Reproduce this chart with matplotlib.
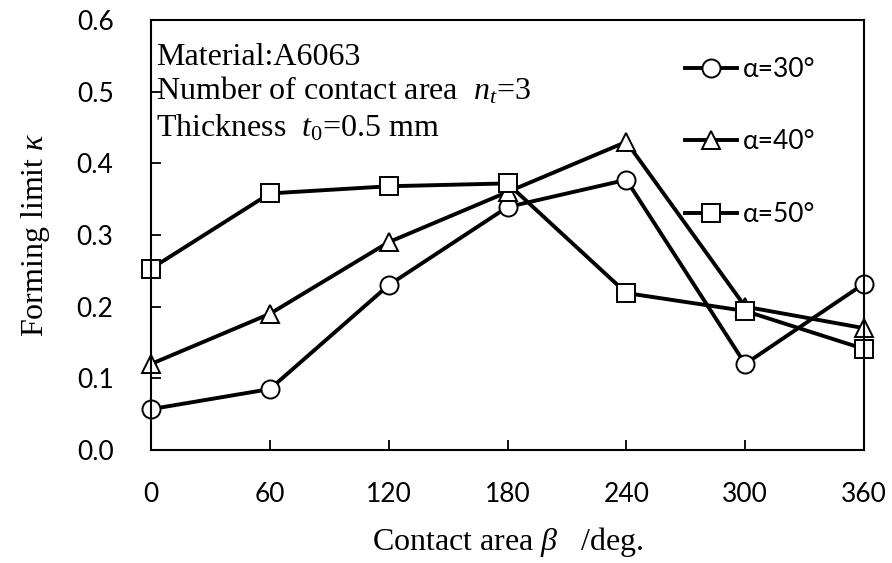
import matplotlib
matplotlib.use("Agg")
from matplotlib import pyplot as plt

# data
beta = [0, 60, 120, 180, 240, 300, 360]
kappa_30 = [0.057, 0.085, 0.23, 0.339, 0.377, 0.12, 0.232]
kappa_40 = [0.12, 0.19, 0.29, 0.36, 0.43, 0.20, 0.17]
kappa_50 = [0.253, 0.358, 0.368, 0.372, 0.219, 0.194, 0.141]
labels = ["α=30°", "α=40°", "α=50°"]
x_ticks = [0, 60, 120, 180, 240, 300, 360]
y_ticks = [0.0, 0.1, 0.2, 0.3, 0.4, 0.5, 0.6]

plt.rcParams['mathtext.fontset'] = 'custom'
plt.rcParams['mathtext.rm'] = 'Liberation Serif'
plt.rcParams['mathtext.it'] = 'Liberation Serif:italic'

fig = plt.figure(figsize=(8.92, 5.63), dpi=100)
ax = fig.add_axes([151 / 892, 1 - 450 / 563, (864 - 151) / 892, 430 / 563])

style = dict(color="black", lw=2.8, markersize=13, markerfacecolor="white",
             markeredgecolor="black", markeredgewidth=1.4)
ax.plot(beta, kappa_30, marker="o", label=labels[0], **style)
ax.plot(beta, kappa_40, marker="^", label=labels[1], **style)
ax.plot(beta, kappa_50, marker="s", label=labels[2], **style)

ax.set_xlim(0, 360)
ax.set_ylim(0, 0.6)
ax.set_xticks(x_ticks)
ax.set_yticks(y_ticks)
ax.set_yticklabels(["%.1f" % v for v in y_ticks])
ax.tick_params(direction="in", length=7, width=1.3, labelsize=19, pad=27)
ax.tick_params(axis="x", pad=23)
for lab in ax.get_xticklabels() + ax.get_yticklabels():
    lab.set_family("Lato")
for s in ax.spines.values():
    s.set_linewidth(1.5)
for p in ax.lines:
    p.set_clip_on(False)

ax.set_xlabel(r"Contact area $\it{\beta}$   /deg.", family="Liberation Serif",
              fontsize=23, labelpad=13)
ax.set_ylabel(r"Forming limit $\it{\kappa}$", family="Liberation Serif",
              fontsize=23, labelpad=18)

txt = dict(family="Liberation Serif", fontsize=23, transform=ax.transAxes,
           ha="left", va="baseline")
ax.text(0.007, 0.895, "Material:A6063", **txt)
ax.text(0.007, 0.814, r"Number of contact area  $\it{n_t}$=3", **txt)
ax.text(0.007, 0.728, r"Thickness  $\it{t_0}$=0.5 mm", **txt)

leg = ax.legend(loc="upper left", bbox_to_anchor=(0.73, 0.945), frameon=False,
                prop={"family": "Lato", "size": 19}, handlelength=2.0,
                handletextpad=0.2, labelspacing=1.8, borderpad=0)
for h in leg.legend_handles:
    h.set_markersize(13)

fig.savefig("out.png", dpi=100)
